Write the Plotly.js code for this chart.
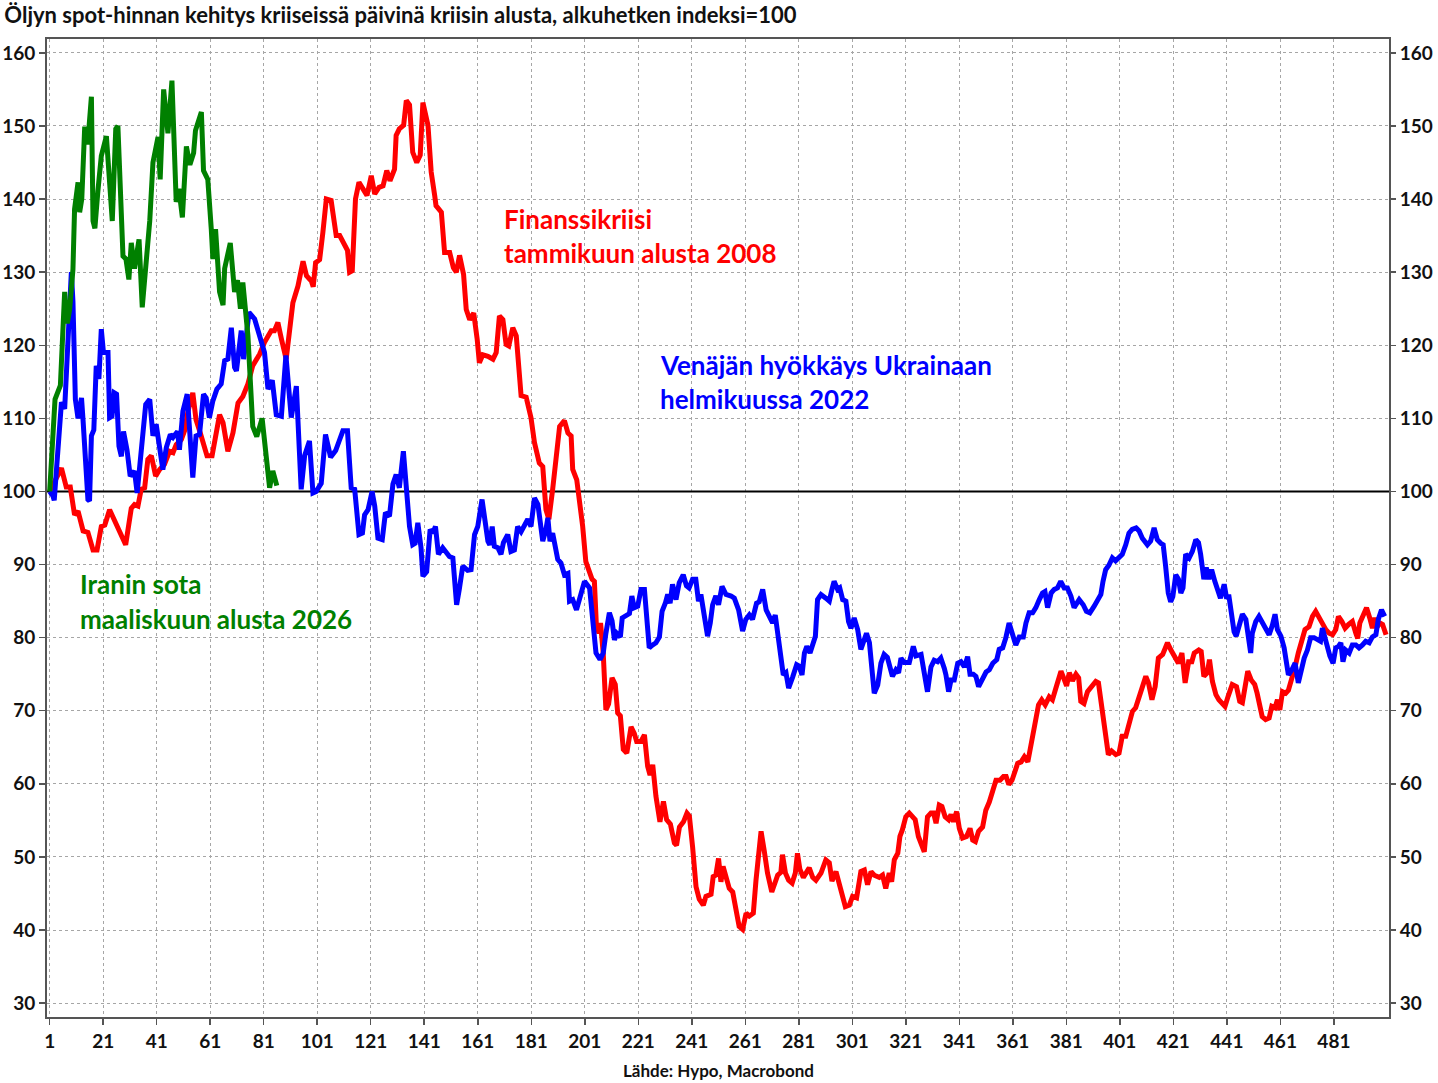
<!DOCTYPE html>
<html>
<head>
<meta charset="utf-8">
<script src="https://cdn.plot.ly/plotly-3.0.1.min.js"></script>
<style>
  html, body { margin: 0; padding: 0; background: #fff; }
  #chart { width: 1438px; height: 1083px; }
</style>
</head>
<body>
<div id="chart"></div>
<script>
// Öljyn spot-hinta kriiseissä, indeksi kriisin alussa = 100
// päivät kriisin alusta ja indeksin arvo (luettu kuvasta)

const finDays = [1, 5.4, 7.2, 8.7, 10.3, 11.6, 13.5, 15.3, 17.2, 18.7, 20.3, 21.6, 23.4, 25.3, 27.1, 29.4, 31.5, 32.7, 34, 35.2, 36.5, 37.7, 39, 40.6, 42.1, 43.9, 45.8, 47.1, 48.3, 50.2, 51.5, 52.7, 54.5, 55.7, 57.3, 59.8, 61.7, 64.5, 65.8, 67.6, 69.5, 71.4, 73.2, 75.1, 76.9, 79.5, 81.3, 83.8, 85, 86.3, 87.6, 89.4, 91.9, 93.8, 95.7, 97, 98.8, 99.5, 100.4, 101.9, 103.1, 104.4, 106.2, 108.1, 109.4, 111.2, 112.3, 113.1, 114.1, 115.3, 116.6, 118.1, 119.6, 121.2, 122.5, 124.1, 125.6, 127, 128.2, 129.9, 130.5, 131.7, 133.3, 134.3, 135.5, 136.7, 138.2, 139.5, 140.5, 142.4, 143.6, 144.9, 145.4, 147.4, 148.6, 150.5, 151.9, 153, 154.2, 155.7, 156.7, 158, 159.5, 160.8, 161.6, 162.9, 164.8, 166.7, 167.9, 169.1, 170.4, 171.6, 172.6, 174.1, 175.4, 177.2, 179.1, 180.9, 182.2, 184, 185.3, 186.5, 187.6, 189, 190.3, 191.6, 193.4, 194.7, 195.9, 196.5, 198, 199.6, 200.2, 201.4, 202.9, 203.7, 204.6, 205.3, 206.3, 206.9, 207.9, 208.9, 209.9, 211.2, 212.4, 213.3, 214.3, 215.4, 216.7, 217.7, 218.3, 219.5, 220.4, 222, 223.3, 224.5, 225.4, 226.4, 227.6, 229.1, 230.4, 231.6, 233, 234.5, 235.3, 236.4, 237.9, 239.2, 240.1, 241.3, 242.6, 243.8, 245.3, 246.3, 248.2, 249, 250, 251, 251.9, 252.7, 253.7, 255, 256.3, 257.5, 258.7, 260, 261.3, 262.5, 264, 265, 266, 266.9, 268.1, 269.3, 270.9, 272.2, 273.1, 274.3, 274.9, 276, 277.2, 278.5, 279.7, 280.5, 281.4, 282.7, 283.9, 284.9, 286.2, 287.4, 289.3, 291.1, 292.4, 293.4, 294.9, 296.7, 298.4, 299.9, 301.1, 302.6, 304.2, 305.5, 306.7, 308, 309.2, 311.1, 312.3, 313.5, 314.8, 315.7, 316.7, 318, 318.8, 319.7, 321, 322.3, 323.5, 324.5, 325.7, 327, 327.9, 329.1, 330.4, 331.4, 332.3, 333.5, 334.5, 335.7, 337, 337.9, 338.8, 340, 341, 342.2, 343.7, 345, 346, 347, 348.2, 349.7, 350.9, 352.2, 353.5, 354.7, 356.2, 357.5, 358.5, 359.5, 360.7, 361.6, 362.8, 364.1, 365.3, 366.6, 367.7, 368.6, 369.6, 370.6, 371.8, 373.1, 374.6, 375.8, 377.1, 379, 380.2, 381.1, 382.1, 383.3, 384.6, 385.6, 386.4, 387.6, 388.9, 390.5, 392, 393, 394.2, 395.5, 396.7, 397.9, 399.5, 400.7, 401.9, 403.2, 404.4, 405.7, 406.9, 408.2, 409.4, 410.7, 411.7, 413, 414.2, 415.4, 417, 418.8, 420.1, 421.7, 422.9, 424.2, 425.4, 426.7, 427.9, 428.8, 430.5, 431.4, 432.4, 433.7, 434.5, 435.6, 436.9, 438, 439.3, 440.3, 441.5, 443, 444.6, 445.8, 446.8, 447.8, 448.8, 450.1, 451.4, 452.3, 453.2, 454.2, 455.5, 456.8, 457.8, 459, 459.9, 460.8, 461.8, 463, 464, 465.3, 466.5, 467.7, 469, 470.2, 471.7, 473, 474.2, 475.5, 476.7, 478, 479.2, 480.5, 481.7, 482.7, 484, 485.2, 486.5, 487.9, 489.2, 489.9, 490.7, 491.7, 493.2, 494.4, 495.4, 496.3, 497.2, 498.2, 499.2, 500.5];
const finIndex = [100, 103.2, 100.6, 100.6, 96.8, 97.3, 94.6, 94.4, 92, 92, 95.2, 95.4, 97.5, 96.1, 94.4, 92.7, 97.7, 98.2, 98, 100.3, 100.5, 104.4, 104.9, 102.1, 103, 103.7, 105.5, 105.3, 106.4, 107.1, 108.4, 111, 113.5, 109.8, 108, 104.9, 104.9, 110.5, 109.4, 105.5, 108, 112.1, 113, 114.7, 117.2, 118.8, 120.4, 122, 122, 123.1, 120.9, 118.1, 125.8, 128.1, 131.5, 129.5, 128.8, 128, 131.3, 131.7, 135.4, 140, 139.8, 135, 135, 133.9, 133, 130, 130.2, 140, 142.3, 141.4, 140.5, 143.2, 140.7, 141.6, 141.8, 143.9, 142.5, 144.1, 148.7, 149.6, 150.1, 153.5, 152.9, 146.4, 145, 146, 153.2, 150.1, 143.7, 140.5, 139.1, 138.2, 132.7, 132.7, 130.6, 130, 132.3, 129.7, 124.9, 123.5, 124.4, 120.8, 117.6, 118.7, 118.5, 118.1, 119, 124, 123.5, 120.1, 119.9, 122.4, 121.3, 113.1, 112.9, 110.1, 106.7, 103.9, 103.4, 97.5, 96.2, 100.3, 105.3, 108.9, 109.7, 108, 107.6, 103, 101.6, 97.1, 95.3, 90.4, 89.1, 88, 87.7, 82, 80.6, 82, 77.9, 70.1, 70.9, 74.5, 73.6, 69.7, 69.3, 64.7, 64.2, 66.5, 67.8, 66.9, 65.8, 65.8, 66.7, 62.4, 61.2, 62.6, 58.3, 54.8, 57.6, 55.1, 54.5, 51.9, 51.6, 54.1, 54.8, 56, 55.6, 51.4, 45.9, 44.2, 43.4, 44.6, 44.9, 47.3, 47.5, 49.8, 46.6, 48.7, 47.3, 45.7, 45.2, 43, 40.5, 40.1, 42.3, 41.9, 42.3, 46.8, 50.8, 53.5, 50.8, 47.8, 45.2, 46.8, 47.5, 47.9, 50.3, 47.8, 46.8, 46.4, 47.8, 50.5, 48.3, 47.2, 47.8, 48.5, 47.2, 46.8, 47.8, 49.6, 49.2, 46.7, 48, 45.5, 43.2, 43.4, 44.6, 44.4, 48, 48.2, 46.2, 48, 47.5, 47.2, 47.5, 45.7, 47.8, 46.6, 49.6, 50.5, 52.8, 53.7, 55.5, 56, 55.5, 55.1, 52.8, 51.4, 50.7, 55.5, 56, 56, 54.6, 57.1, 56.9, 55.5, 55.1, 55.8, 54.8, 56.2, 53.9, 52.6, 52.8, 53.9, 52.3, 52.1, 53.5, 54.1, 56.4, 57.5, 59.2, 60.5, 60.5, 61, 61, 59.9, 60.5, 61.5, 62.8, 63, 63.7, 63, 65.1, 66.4, 68.8, 70.8, 71.5, 70.8, 71.9, 71.5, 73.1, 75.4, 74.3, 73.4, 75.2, 74.1, 75, 74.5, 71.3, 71, 72.6, 73.3, 74, 73.8, 70.4, 67.5, 64, 64.5, 64, 64.2, 66.5, 66.5, 68.1, 69.9, 70.4, 71.9, 73.3, 74.7, 73.8, 71.5, 73.3, 77.2, 77.7, 79.3, 78.3, 77.2, 76.5, 77.9, 73.8, 76.7, 76.7, 77.9, 78.3, 78.1, 74.7, 75.2, 77, 74, 72.2, 71.5, 71.1, 70.6, 72, 73.6, 73.3, 71.3, 71.1, 73.3, 75.4, 74.2, 73.6, 72.4, 71.1, 69.2, 68.8, 69, 70.6, 70.4, 71.5, 70.1, 72.6, 72.4, 72.8, 74.2, 76, 77.9, 79.7, 81.1, 81.5, 82.9, 83.6, 82.7, 81.8, 81.1, 80.6, 80.4, 81.1, 82.9, 82.2, 81.3, 81.8, 82.2, 80.6, 79.9, 82, 82.9, 84.1, 82.7, 81.3, 82.7, 81.5, 82, 81.8, 80.4];

const ukrDays = [1, 2.2, 2.7, 5.4, 6.6, 7.8, 9.1, 9.7, 10.6, 11.6, 12.9, 13.5, 15.3, 15.9, 16.6, 17.5, 18.4, 19.4, 20.3, 21.1, 22.8, 23.4, 24.3, 25.1, 26, 26.9, 27.8, 28.6, 29.9, 31.1, 32.7, 33.7, 35.2, 36.9, 38.4, 39.6, 40.8, 41.9, 43.3, 44.6, 46.1, 47.1, 48.8, 49.5, 50.8, 52.4, 53.9, 54.5, 55.7, 57, 58.5, 59.5, 60.7, 62, 63.5, 65.1, 66.4, 67.6, 68.9, 70.1, 70.8, 72.6, 73.5, 75.5, 77.6, 79.5, 81.3, 82.6, 84.2, 85.7, 87.6, 89.3, 91.3, 93.2, 95, 96.3, 98.1, 99.4, 100.6, 102.5, 104.1, 106, 107.9, 109.1, 110.6, 112.3, 113.7, 115, 116.6, 117.9, 118.7, 120, 121.5, 122.5, 123.7, 125.3, 126.5, 128, 129.3, 130.5, 131.7, 133.2, 134.2, 135.5, 136.7, 137.6, 138.6, 139.8, 140.5, 141.9, 143.2, 144.2, 145.2, 146.3, 147.9, 149.2, 150.4, 151.7, 153.1, 154.1, 155.4, 157.2, 158.5, 159.8, 161, 162.6, 163.5, 164.8, 165.5, 166.4, 167.2, 168.5, 169.7, 170.6, 172.2, 173.4, 174.7, 175.9, 177.2, 178.4, 179.7, 180.9, 182.2, 183.5, 185.3, 186.5, 187.2, 188, 189, 190.9, 192.1, 193.4, 194.7, 195.3, 196.5, 197.9, 199.1, 200.9, 202.8, 204, 205.2, 206.7, 207.9, 208.9, 210.2, 211.2, 212.1, 213, 214.3, 215, 216.5, 217.7, 218.6, 219.5, 220.8, 222, 223.3, 225.1, 226.4, 227.6, 228.9, 229.9, 231.1, 232, 232.9, 233.8, 235.1, 236.3, 237.8, 239, 240, 241.3, 242.5, 243.5, 244.4, 245.6, 246.9, 247.9, 248.8, 250, 251, 252.3, 253.8, 255.7, 256.9, 258.5, 260, 261.2, 262.5, 263.7, 265.2, 266.2, 267.5, 268.8, 270, 271.2, 272.2, 273.2, 274.4, 275.2, 276.2, 277.2, 278.7, 280.2, 281.2, 282.2, 283.1, 284, 285.2, 286.2, 287.2, 288, 289.3, 291.1, 292.4, 293.4, 294.2, 295.5, 296.3, 297.4, 298.6, 299.6, 300.5, 301.7, 303, 304.2, 305.1, 306.3, 307.4, 308.6, 309.2, 310.5, 311.7, 312.9, 314.1, 316, 317.3, 318.3, 319.2, 320.4, 322.3, 323.8, 324.8, 326.7, 327.9, 329.1, 330.4, 331.6, 332.9, 334.1, 335.4, 336, 337, 337.9, 339.1, 340.4, 341.6, 342.9, 344.1, 345, 346.2, 347.2, 348.2, 349.7, 351, 352.2, 353.5, 355, 355.9, 357.2, 358.4, 359.6, 360.6, 362.1, 363.4, 364.9, 365.9, 367.1, 368.4, 369.6, 370.9, 372.1, 373, 374, 375.3, 376.5, 377.7, 378.9, 380.2, 381.4, 382.7, 383.9, 385.8, 387.3, 388.5, 389.8, 391.4, 392.6, 393.9, 394.7, 395.7, 396.9, 398.2, 399.4, 400.7, 401.9, 403.2, 404.4, 405.6, 407.1, 408.2, 409.4, 411.3, 412.5, 413.8, 415, 416.3, 417.2, 418.1, 419.1, 420, 420.8, 421.9, 422.9, 423.8, 424.6, 425.6, 426.9, 428.1, 429.4, 430.4, 431.2, 432.4, 433.3, 434.3, 435.3, 436.5, 437.8, 438.6, 440, 440.8, 441.8, 442.8, 443.7, 444.5, 445.6, 446.8, 448.1, 449.1, 449.9, 450.5, 451.8, 453, 454.3, 455.5, 456.8, 458, 459, 459.9, 461.2, 462.4, 463.2, 464, 465.3, 466.5, 467.7, 469, 469.9, 471.1, 472.3, 473.6, 474.8, 476, 476.7, 477.7, 478.6, 479.5, 480.7, 481.7, 482.7, 483.6, 484.4, 485.4, 486.7, 487.9, 489.2, 490.4, 491.7, 492.9, 494.2, 495.4, 496.7, 497.6, 498.8, 500];
const ukrIndex = [100, 99.4, 98.8, 112.2, 111.3, 122.2, 130, 126, 112.6, 110, 112.8, 109.6, 98.9, 98.7, 107.6, 108.4, 117.2, 115.4, 122.2, 119, 119, 110.1, 110.3, 113.5, 113.3, 106.2, 104.8, 108.2, 105.7, 102.1, 102.8, 99.8, 105.7, 111.9, 112.6, 107.6, 109.2, 106.2, 103, 106, 107.8, 107.4, 108.2, 105.7, 111, 113.3, 104.4, 101.9, 107.6, 107.8, 113.3, 112.8, 110.1, 112.4, 114, 114.7, 117.9, 118.1, 122.4, 117, 116.5, 122, 118.1, 124.5, 123.6, 121.3, 119, 114, 115.2, 110.5, 110.3, 118.6, 110.1, 114.4, 100.3, 104.9, 106.9, 99.8, 100, 101.1, 107.8, 104.7, 105.6, 106.8, 108.3, 108.3, 100.5, 100.3, 94.1, 94.3, 96.8, 97.5, 100, 98, 93.6, 93.4, 97.1, 96.6, 101, 102.3, 100.5, 105.5, 100.7, 95.2, 92.7, 92.9, 95.7, 92.3, 88.4, 89, 94.8, 94.3, 95.2, 91.4, 92.3, 91.6, 91.1, 90.9, 84.5, 86.6, 89.8, 89.2, 89.3, 94.1, 95.2, 98.9, 96.6, 93.2, 92.7, 95.2, 92.5, 92.3, 91.4, 93, 94.1, 91.8, 92, 95.2, 94.5, 95.2, 96.2, 95.2, 99.1, 98.2, 93.2, 94.8, 96.4, 93.2, 94.3, 90.7, 90.2, 88.6, 88.8, 85, 85.2, 83.8, 85.6, 87.7, 86.8, 82.5, 77.9, 77, 77.9, 80.6, 83.4, 82.3, 79.7, 80.6, 80.1, 82.7, 83, 83.3, 85.7, 84.1, 84.3, 86.6, 86.6, 78.6, 79, 79.3, 80.1, 83.6, 84.7, 85.9, 84.7, 87.3, 85.2, 87.5, 88.6, 87.1, 86.8, 88, 88, 85, 85.9, 83.4, 80.2, 82, 84.5, 85.7, 84.5, 87, 85.9, 85.7, 85.4, 83.8, 80.9, 82.5, 83.1, 82.5, 84.7, 84.9, 86.6, 83.8, 82.7, 82, 83.1, 80.2, 77.9, 74.9, 75.2, 73.1, 74.6, 76.3, 76.1, 74.9, 77.9, 78.8, 77.9, 79, 80.2, 85.2, 85.9, 85.4, 85, 86.6, 87.7, 86.6, 86.8, 85.2, 85, 82.2, 81.3, 82.7, 81.1, 78.4, 79.3, 80.6, 79.3, 74.2, 72.4, 73.5, 76.5, 77.7, 77.3, 74.7, 75.6, 75.2, 77.2, 76.6, 76.6, 78.8, 77.5, 77.7, 75.2, 72.6, 76, 76.9, 76.7, 77.2, 75.8, 74.9, 72.6, 74.2, 74.2, 76.5, 76.7, 76, 77.4, 75, 75, 74.7, 73.3, 74.5, 75.3, 75.6, 76.5, 77, 78.4, 78.6, 80, 82, 80.6, 79, 80.1, 80.1, 82, 83.4, 83.4, 84.1, 85.2, 86.1, 86.3, 84.1, 86.1, 86.6, 86.8, 87.7, 86.8, 86.8, 85.7, 84.1, 85.2, 84.5, 83.6, 83.4, 84.3, 85, 85.9, 87.7, 89.3, 89.9, 90.9, 90.5, 90.9, 91.4, 92.7, 94.3, 94.8, 95, 94.6, 93.6, 92.7, 93.2, 95, 93.4, 92.9, 92.7, 89.8, 86.1, 84.9, 85.6, 88.6, 88, 86.1, 86.8, 91.4, 90.9, 91.8, 93.4, 93, 91.4, 88, 89.6, 88, 89.3, 87.7, 85.9, 85.4, 87.3, 85.6, 85.6, 82.9, 80.8, 80.2, 81.5, 83.2, 82.5, 80, 77.9, 80.6, 82.2, 82.9, 82, 81.3, 80.4, 81.7, 83.2, 81.1, 80.2, 78.6, 76.5, 74.9, 75.6, 76.5, 73.8, 76, 77.2, 78.3, 80, 80, 79.7, 79.5, 81.3, 79.7, 78.3, 77.5, 76.5, 78.6, 78.8, 79.3, 76.7, 78.3, 77.9, 79, 79, 78.6, 79, 79.5, 79.3, 80.1, 80.4, 82.5, 83.8, 82.9];

const iranDays = [1, 3, 5, 6.6, 7.6, 8.5, 9.7, 10.3, 11.6, 12.2, 13, 14.1, 15.2, 16.6, 17.2, 17.9, 19, 20.3, 22.2, 23.3, 24.4, 25.7, 26.5, 28.4, 29.5, 30.6, 31.5, 32.7, 34.4, 35.6, 36.9, 38.4, 39.6, 41.5, 42.3, 43.6, 45.2, 46.7, 48.3, 49.3, 50.6, 52.1, 53.4, 54.8, 55.5, 57.7, 58.5, 60.1, 61.4, 62, 63, 64.5, 65.8, 66.4, 68.5, 70.1, 71.2, 72.3, 73.2, 75.1, 76.9, 78.4, 80.4, 81.9, 83.2, 84.4, 85.9];
const iranIndex = [100, 112.6, 114.5, 127.3, 123, 125, 130.4, 138.6, 142.3, 138.2, 140, 149.9, 147.5, 154, 137, 136, 141, 145.9, 148.6, 143, 137, 149.6, 150, 132.2, 131.8, 129, 134, 130.5, 134.5, 125.2, 130.5, 137, 145, 148.5, 142.7, 155, 149, 156.2, 139.6, 141.4, 137.5, 147.2, 144.7, 146.3, 149.4, 151.9, 143.9, 142.7, 135.9, 131.8, 135.9, 127.3, 125.5, 130.5, 134, 127.3, 128.9, 125, 128.6, 121.3, 108.9, 107.5, 110, 105.3, 100.5, 102.8, 100.8];

const dayTicks = [1, 21, 41, 61, 81, 101, 121, 141, 161, 181, 201, 221, 241, 261, 281, 301, 321, 341, 361, 381, 401, 421, 441, 461, 481];
const indexTicks = [30, 40, 50, 60, 70, 80, 90, 100, 110, 120, 130, 140, 150, 160];
const BASE_INDEX = 100;

const FONT = "Lato, 'Open Sans', 'DejaVu Sans', sans-serif";
const RANGE_X = [0, 501.6];
const RANGE_Y = [28.1, 161.9];

function line(x, y, color, width) {
  return {
    x, y, type: "scatter", mode: "lines",
    line: { color, width },
    hoverinfo: "skip", showlegend: false,
  };
}

function label(x, y, text, color) {
  return {
    x, y, xref: "x", yref: "y", text: "<b>" + text + "</b>", showarrow: false,
    xanchor: "left", yanchor: "middle", align: "left",
    font: { family: FONT, size: 26, color },
  };
}

const yAxisBase = {
  range: RANGE_Y,
  tickvals: indexTicks,
  ticks: "outside", ticklen: 6, tickwidth: 1.5, tickcolor: "#555",
  tickfont: { family: FONT, size: 19, color: "#111", weight: 700 },
  zeroline: false, fixedrange: true,
};

const traces = [
  line(RANGE_X, [BASE_INDEX, BASE_INDEX], "#000", 2),
  line(finDays, finIndex, "#ff0000", 5),
  line(ukrDays, ukrIndex, "#0000ff", 5),
  line(iranDays, iranIndex, "#008000", 5),
  { x: [RANGE_X[0]], y: [BASE_INDEX], yaxis: "y2", type: "scatter", mode: "markers",
    marker: { opacity: 0 }, hoverinfo: "skip", showlegend: false },
];

const layout = {
  width: 1438, height: 1083,
  margin: { l: 47, r: 49, t: 39, b: 66 },
  paper_bgcolor: "#fff", plot_bgcolor: "#fff",
  title: {
    text: "<b>Öljyn spot-hinnan kehitys kriiseissä päivinä kriisin alusta, alkuhetken indeksi=100</b>",
    font: { family: FONT, size: 22, color: "#111" },
    xref: "container", yref: "container",
    x: 0.003, xanchor: "left", y: 0.986, yanchor: "middle",
  },
  xaxis: {
    range: RANGE_X,
    tickvals: dayTicks,
    ticks: "outside", ticklen: 6, tickwidth: 1.5, tickcolor: "#555",
    tickfont: { family: FONT, size: 19, color: "#111", weight: 700 },
    showgrid: true, gridcolor: "#a6a6a6", gridwidth: 1, griddash: "3px,3px",
    showline: true, linecolor: "#555", linewidth: 2, mirror: true,
    zeroline: false, fixedrange: true,
  },
  yaxis: Object.assign({}, yAxisBase, {
    showgrid: true, gridcolor: "#a6a6a6", gridwidth: 1, griddash: "3px,3px",
    showline: true, linecolor: "#555", linewidth: 2, mirror: true,
  }),
  yaxis2: Object.assign({}, yAxisBase, {
    overlaying: "y", side: "right", showgrid: false, showline: false,
  }),
  annotations: [
    label(170.2, 137.3, "Finanssikriisi", "#ff0000"),
    label(170.2, 132.6, "tammikuun alusta 2008", "#ff0000"),
    label(228.5, 117.3, "Venäjän hyökkäys Ukrainaan", "#0000ff"),
    label(228.5, 112.6, "helmikuussa 2022", "#0000ff"),
    label(11.5, 87.3, "Iranin sota", "#008000"),
    label(11.5, 82.6, "maaliskuun alusta 2026", "#008000"),
    {
      xref: "paper", yref: "paper", x: 0.5, y: -0.0545,
      xanchor: "center", yanchor: "middle", showarrow: false,
      text: "<b>Lähde: Hypo, Macrobond</b>",
      font: { family: FONT, size: 17, color: "#111" },
    },
  ],
};

Plotly.newPlot("chart", traces, layout, { displayModeBar: false, staticPlot: true });
</script>
</body>
</html>
